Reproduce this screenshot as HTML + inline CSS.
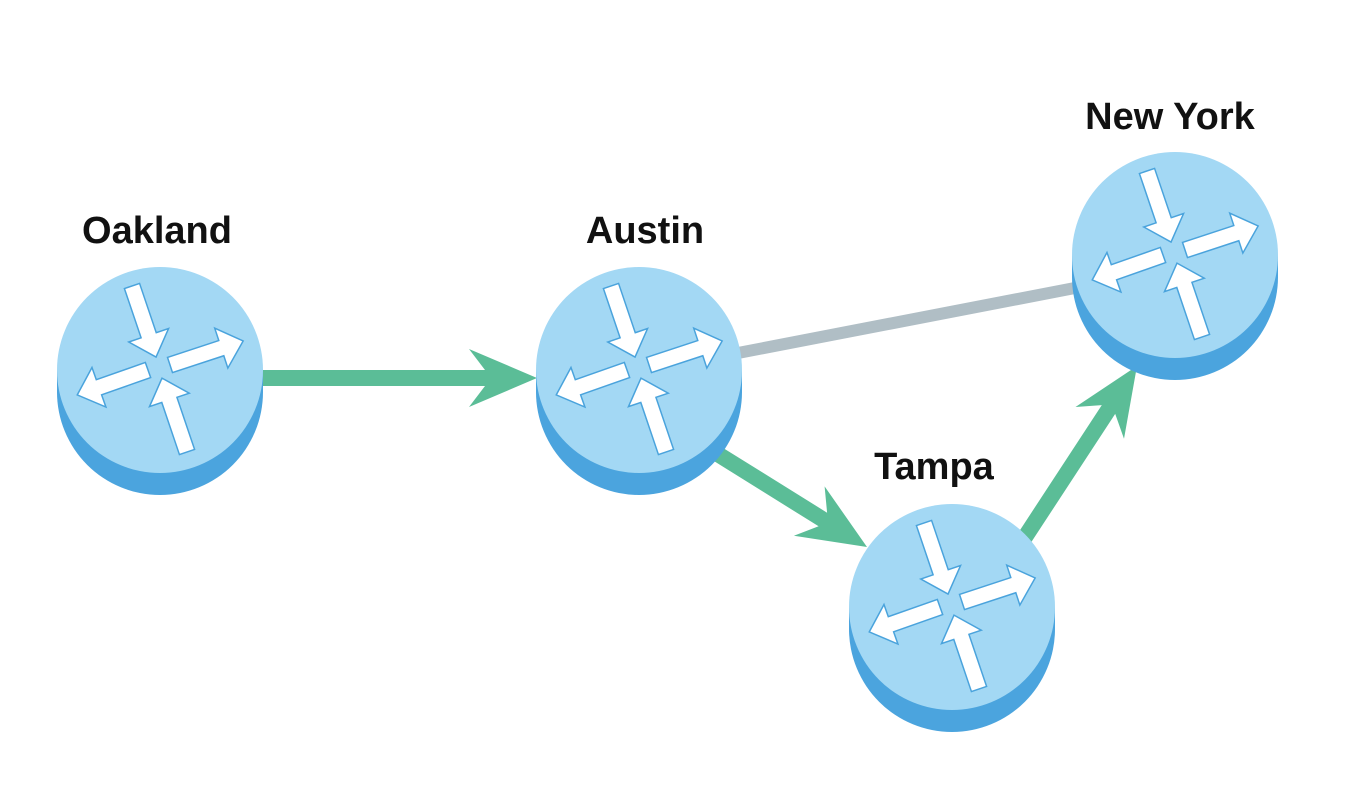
<!DOCTYPE html>
<html><head><meta charset="utf-8"><style>
html,body{margin:0;padding:0;background:#fff;}
svg{display:block}
text{font-family:"Liberation Sans",sans-serif;font-weight:bold;font-size:38px;fill:#111;text-anchor:middle}
</style></head><body>
<svg id="s" width="1364" height="786" viewBox="0 0 1364 786">
<defs>
<g id="router">
<circle cx="0" cy="22" r="103" fill="#4ba4de"/>
<rect x="-103" y="0" width="206" height="22" fill="#4ba4de"/>
<circle cx="0" cy="0" r="103" fill="#a3d8f4"/>
<g fill="#fff" stroke="#4aa3dc" stroke-width="1.5" stroke-linejoin="miter">
<path transform="translate(-28,-84) rotate(71.3)" d="M0,-8 L52,-8 L52,-21 L75,0 L52,21 L52,8 L0,8 Z"/>
<path transform="translate(10,-5) rotate(-18.2)" d="M0,-8 L54,-8 L54,-21 L77,0 L54,21 L54,8 L0,8 Z"/>
<path transform="translate(-12,0) rotate(160.6)" d="M0,-8 L52,-8 L52,-21 L75,0 L52,21 L52,8 L0,8 Z"/>
<path transform="translate(27,82) rotate(-108.7)" d="M0,-8 L55,-8 L55,-21 L78,0 L55,21 L55,8 L0,8 Z"/>
</g>
</g>
</defs>
<g id="edges">
<line x1="738" y1="353" x2="1080" y2="287" stroke="#b0bec5" stroke-width="12"/>
</g>
<use href="#router" x="160" y="370"/>
<use href="#router" x="639" y="370"/>
<use href="#router" x="1175" y="255"/>
<use href="#router" x="952" y="607"/>
<text x="157" y="243">Oakland</text>
<text x="645" y="243">Austin</text>
<text x="1170" y="129">New York</text>
<text x="934" y="479">Tampa</text>
</svg>
<script>
function arrow(x1,y1,x2,y2){
 var dx=x2-x1,dy=y2-y1,L=Math.hypot(dx,dy),ux=dx/L,uy=dy/L,px=-uy,py=ux;
 var hl=68,hw=29,nb=52,sw=8;
 var bx=x2-ux*hl,by=y2-uy*hl,nx=x2-ux*nb,ny=y2-uy*nb;
 var pts=[[x1+px*sw,y1+py*sw],[nx+px*sw,ny+py*sw],[bx+px*hw,by+py*hw],[x2,y2],[bx-px*hw,by-py*hw],[nx-px*sw,ny-py*sw],[x1-px*sw,y1-py*sw]];
 var p=document.createElementNS("http://www.w3.org/2000/svg","polygon");
 p.setAttribute("points",pts.map(function(q){return q[0].toFixed(1)+","+q[1].toFixed(1)}).join(" "));
 p.setAttribute("fill","#5bbd97");
 document.getElementById("edges").appendChild(p);
}
arrow(255,378,537,378);
arrow(700,443,867,547);
arrow(1010,560,1137,366);
</script>
</body></html>
